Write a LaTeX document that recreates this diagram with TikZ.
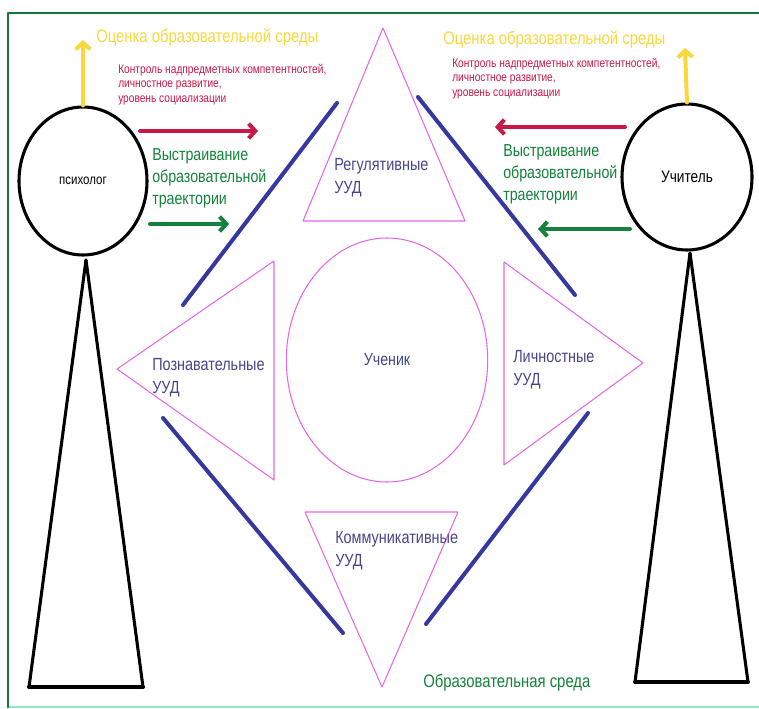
\documentclass[tikz,border=0pt]{standalone}
\usepackage{fontspec}
\setmainfont{Liberation Sans}[FakeStretch=0.82]
\usepackage{xcolor}
\usetikzlibrary{positioning,calc,arrows.meta,shapes.geometric}

\definecolor{ramka}{RGB}{20,120,60}
\definecolor{ramkasvet}{RGB}{150,232,195}
\definecolor{zhelt}{RGB}{250,215,60}
\definecolor{krasn}{RGB}{200,25,70}
\definecolor{zelen}{RGB}{20,130,60}
\definecolor{sinij}{RGB}{55,55,160}
\definecolor{rozov}{RGB}{228,105,228}
\definecolor{uud}{RGB}{70,70,140}

\begin{document}
\begin{tikzpicture}[x=0.75pt,y=-0.75pt, line cap=round, line join=round]
	\useasboundingbox (0,0) rectangle (759,709);
	
	% ===== styles =====
	\tikzset{
		golova/.style={draw=black, line width=2.3pt, ellipse, inner sep=0pt},
		telo/.style={draw=black, line width=2.3pt},
		tri/.style={draw=rozov, line width=0.8pt},
		luch/.style={draw=sinij, line width=3pt},
		strel/.style={line width=3pt, -{Straight Barb[length=5pt,width=11pt,line width=3pt]}},
		ocenka/.style={text=zhelt, anchor=west, inner sep=0pt, font=\fontsize{13.6}{15}\selectfont},
		kontrol/.style={text=krasn, anchor=west, inner sep=0pt, align=left, font=\fontsize{9.3}{11}\selectfont},
		traekt/.style={text=zelen, anchor=west, inner sep=0pt, align=left, font=\fontsize{13}{16.5}\selectfont},
		uudtxt/.style={text=uud, anchor=west, inner sep=0pt, align=left, font=\fontsize{13.2}{17}\selectfont}
	}
	
	% ===== ramka =====
	\draw[ramkasvet, line width=2pt] (8,707) -- (759,707);
	\draw[ramka, line width=2.2pt] (8,707) -- (8,13) -- (759,13);
	
	% ===== psikholog i uchitel =====
	\node[golova, minimum width=96pt, minimum height=111pt, font=\fontsize{10.5}{12}\selectfont] (psy) at (83,181) {психолог};
	\node[golova, minimum width=97.5pt, minimum height=109.5pt, font=\fontsize{12.5}{14}\selectfont] (uch) at (687,177) {Учитель};
	
	\draw[telo] (86,260) -- (29,687);
	\draw[telo] (86,260) -- (143,687);
	\draw[black, line width=3pt] (29,687) -- (143,687);
	\draw[telo] (690,253) -- (635,682);
	\draw[telo] (690,253) -- (748,682);
	\draw[black, line width=3pt] (635,682) -- (748,682);
	
	% ===== UUD (treugolniki) =====
	\draw[tri] (383,28) -- (303,221) -- (465,221) -- cycle;
	\draw[tri] (117,369) -- (274,261) -- (274,480) -- cycle;
	\draw[tri] (643,363) -- (504,262) -- (504,465) -- cycle;
	\draw[tri] (382,687) -- (305,512) -- (458,512) -- cycle;
	\node[draw=rozov, line width=0.8pt, ellipse, minimum width=151pt, minimum height=183pt,
	      text=uud, font=\fontsize{13}{15}\selectfont] (uchenik) at (387,360) {Ученик};
	
	\node[uudtxt] (reg) at (334,178) {Регулятивные\\УУД};
	\node[uudtxt] (pozn) at (152,378) {Познавательные\\УУД};
	\node[uudtxt] (lich) at (513,370) {Личностные\\УУД};
	\node[uudtxt] (komm) at (335,551) {Коммуникативные\\УУД};
	
	% ===== sinie linii =====
	\draw[luch] (183,305) -- (337,103);
	\draw[luch] (418,97) -- (575,295);
	\draw[luch] (163,418) -- (343,633);
	\draw[luch] (426,624) -- (588,413);
	
	% ===== strelki =====
	\coordinate (zhL) at (83,40);
	\coordinate (zhR) at (685,48);
	\coordinate (krL) at (258,131);
	\coordinate (krR) at (495,127);
	\coordinate (zeL) at (229,224);
	\coordinate (zeR) at (538,229);
	\draw[strel, zhelt] (psy.north) -- (zhL);
	\draw[strel, zhelt] (uch.north) -- (zhR);
	\draw[strel, krasn] (140,131) -- (krL);
	\draw[strel, krasn] (625,127) -- (krR);
	\draw[strel, zelen] (150,224) -- (zeL);
	\draw[strel, zelen] (630,229) -- (zeR);
	
	% ===== podpisi =====
	\node[ocenka] (ocL) at (96,38) {Оценка образовательной среды};
	\node[ocenka] (ocR) at (443,40) {Оценка образовательной среды};
	\node[kontrol] (koL) at (118,84.5) {Контроль надпредметных компетентностей,\\личностное развитие,\\уровень социализации};
	\node[kontrol] (koR) at (452,78.5) {Контроль надпредметных компетентностей,\\личностное развитие,\\уровень социализации};
	\node[traekt] (trL) at (152,178) {Выстраивание\\образовательной\\траектории};
	\node[traekt] (trR) at (503,174) {Выстраивание\\образовательной\\траектории};
	\node[text=zelen, anchor=west, inner sep=0pt, font=\fontsize{13.6}{15}\selectfont] (sreda) at (423,683) {Образовательная среда};
\end{tikzpicture}
\end{document}
